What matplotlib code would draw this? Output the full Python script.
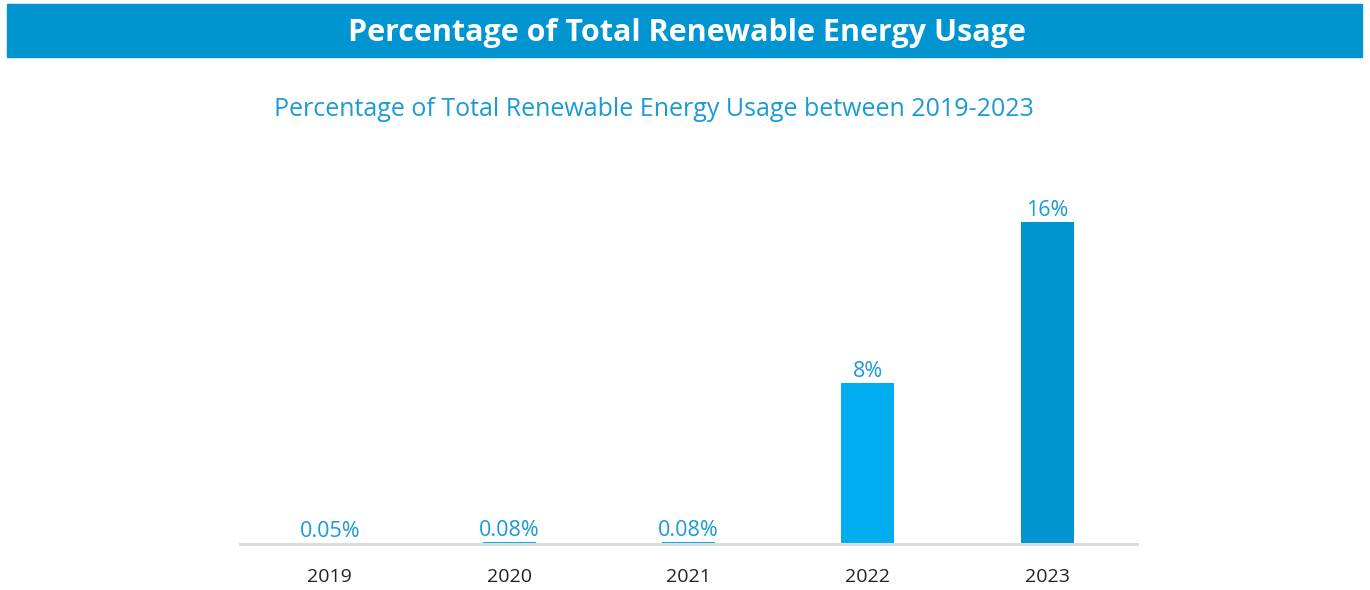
import matplotlib.pyplot as plt
from matplotlib.patches import Rectangle

# Renewable energy share per year
years = ['2019', '2020', '2021', '2022', '2023']
share = [0.05, 0.08, 0.08, 8, 16]
share_labels = ['0.05%', '0.08%', '0.08%', '8%', '16%']
bar_colors = ['#00aeef', '#00aeef', '#00aeef', '#00aeef', '#0094d0']

plt.rcParams['font.family'] = ['Open Sans', 'DejaVu Sans']

fig = plt.figure(figsize=(13.7, 5.9), dpi=100)
W, H = 1370, 590

# header banner
fig.patches.append(Rectangle((7 / W, 1 - 57 / H), 1355 / W, 53 / H,
                             transform=fig.transFigure, color='#0094d0', zorder=0))
fig.text(687 / W, 1 - 33 / H, 'Percentage of Total Renewable Energy Usage',
         ha='center', va='center', color='white', fontsize=22, fontweight='bold')
fig.text(654 / W, 1 - 110 / H, 'Percentage of Total Renewable Energy Usage between 2019-2023',
         ha='center', va='center', color='#1a9ad6', fontsize=18)

# plot area: baseline at y=544, x from 240 to 1137
ax = fig.add_axes([240 / W, 1 - 544 / H, 897 / W, 364 / H])
x = range(len(years))
ax.bar(x, share, width=0.296, color=bar_colors, zorder=1)
for xi, v, lab in zip(x, share, share_labels):
    ax.text(xi, v + 0.05, lab, ha='center', va='bottom', color='#1a9ad6', fontsize=15.5)

ax.set_xlim(-0.5, 4.5)
ax.set_ylim(0, 364 / 20.1)
ax.set_xticks(list(x))
ax.set_xticklabels(years, fontsize=14, color='#222222')
ax.tick_params(axis='x', length=0, pad=17)
ax.set_yticks([])
for s in ['top', 'left', 'right']:
    ax.spines[s].set_visible(False)
ax.spines['bottom'].set_color('#dddddd')
ax.spines['bottom'].set_linewidth(2.2)
ax.spines['bottom'].set_zorder(3)

fig.savefig('out.png', dpi=100)
